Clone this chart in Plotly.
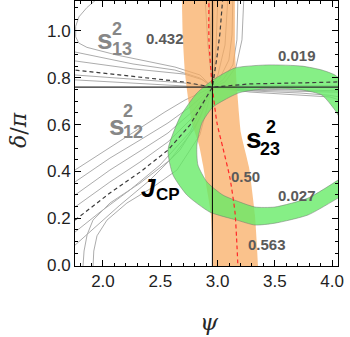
import plotly.graph_objects as go

# ---------------- data (psi, delta/pi) ----------------
best_psi = 2.955
best_delta = 0.76

# s23^2 band (0.437..0.563) edges
s23_left_psi = [2.689, 2.689, 2.698, 2.716, 2.733, 2.777, 2.838, 2.873, 2.916, 2.942, 2.960, 2.962]
s23_left_delta = [1.20, 1.132, 0.962, 0.821, 0.748, 0.607, 0.513, 0.427, 0.299, 0.214, 0.0, -0.05]
s23_right_psi = [3.356, 3.353, 3.326, 3.274, 3.204, 3.169, 3.152, 3.152]
s23_right_delta = [-0.05, 0.0, 0.214, 0.419, 0.564, 0.761, 0.919, 1.20]
# s23^2 = 0.50 central contour
s23_mid_psi = [2.925, 2.925, 2.951, 2.995, 3.047, 3.108, 3.152, 3.169, 3.178]
s23_mid_delta = [1.15, 0.962, 0.778, 0.607, 0.500, 0.372, 0.226, 0.085, -0.01]

# J_CP band (0.019..0.027) edges
jcp_outer_psi = [4.10, 4.024, 3.911, 3.736, 3.440, 3.152, 2.960, 2.820, 2.672, 2.567,
                 2.611, 2.733, 2.934, 3.169, 3.326, 3.501, 3.789, 4.051, 4.10]
jcp_outer_delta = [0.78, 0.812, 0.833, 0.850, 0.855, 0.842, 0.791, 0.735, 0.632, 0.491,
                   0.385, 0.299, 0.226, 0.192, 0.171, 0.179, 0.214, 0.286, 0.30]
jcp_inner_psi = [4.10, 4.051, 3.789, 3.501, 3.326, 3.195, 3.047, 2.908, 2.829, 2.820,
                 2.864, 2.960, 3.108, 3.195, 3.440, 3.736, 3.911, 4.024, 4.10]
jcp_inner_delta = [0.38, 0.363, 0.286, 0.248, 0.248, 0.269, 0.299, 0.355, 0.427, 0.513,
                   0.607, 0.675, 0.718, 0.737, 0.754, 0.748, 0.726, 0.662, 0.60]

# s12^2 contours (gray) and central value (dashed)
s12_lines_psi = [
    [1.756, 2.061, 2.323, 2.541, 2.716, 2.955, 2.916, 2.890],
    [1.756, 2.061, 2.323, 2.567, 2.759, 2.955, 2.942, 2.925],
    [1.756, 2.061, 2.323, 2.567, 2.777, 2.955, 2.960, 2.969],
    [1.756, 2.061, 2.323, 2.567, 2.777, 2.955, 2.986, 3.003],
    [1.756, 1.974, 2.236, 2.497, 2.759, 2.955, 3.003, 3.065, 3.091],
    [1.756, 1.930, 2.148, 2.410, 2.672, 2.846, 2.955, 3.021, 3.099, 3.126, 3.134],
    [1.825, 1.835, 1.862, 1.913, 2.061, 2.323, 2.585, 2.803, 2.955, 3.047, 3.134, 3.169, 3.178],
    [1.913, 1.920, 1.948, 2.035, 2.209, 2.436, 2.646, 2.846, 2.955, 3.065, 3.161, 3.213, 3.230],
]
s12_lines_delta = [
    [0.406, 0.504, 0.585, 0.654, 0.705, 0.760, 0.940, 1.15],
    [0.355, 0.457, 0.534, 0.607, 0.675, 0.760, 0.940, 1.15],
    [0.299, 0.406, 0.487, 0.564, 0.654, 0.760, 0.940, 1.15],
    [0.248, 0.355, 0.440, 0.526, 0.628, 0.760, 0.919, 1.15],
    [0.141, 0.226, 0.321, 0.427, 0.568, 0.760, 0.812, 0.940, 1.15],
    [0.085, 0.162, 0.256, 0.363, 0.491, 0.628, 0.760, 0.799, 0.876, 0.983, 1.15],
    [-0.01, 0.060, 0.130, 0.192, 0.265, 0.350, 0.449, 0.585, 0.760, 0.791, 0.855, 0.962, 1.15],
    [-0.01, 0.060, 0.125, 0.192, 0.265, 0.333, 0.406, 0.556, 0.760, 0.782, 0.846, 0.962, 1.15],
]
s12_best_psi = [1.756, 2.061, 2.323, 2.567, 2.759, 2.955, 2.995, 3.021, 3.047]
s12_best_delta = [0.192, 0.308, 0.397, 0.491, 0.598, 0.760, 0.889, 0.991, 1.15]

# s13^2 contours (gray) and central value (dashed)
s13_lines_psi = [
    [1.98, 1.860, 1.790, 1.762, 1.762, 1.790, 1.860, 2.122, 2.410, 2.628, 2.846, 2.955, 3.283, 3.719, 4.10],
    [1.70, 1.756, 2.262, 2.628, 2.846, 2.955, 3.283, 3.719, 4.10],
    [1.70, 1.756, 2.262, 2.707, 2.873, 2.955, 3.283, 3.719, 4.10],
    [1.70, 1.756, 2.707, 2.955, 3.283, 3.719, 3.98, 4.10],
    [1.70, 1.756, 2.707, 2.955, 3.283, 3.719, 3.98, 4.10],
]
s13_lines_delta = [
    [1.15, 1.100, 1.060, 1.020, 0.975, 0.948, 0.930, 0.897, 0.868, 0.846, 0.812, 0.760, 0.769, 0.765, 0.765],
    [0.915, 0.910, 0.859, 0.833, 0.799, 0.760, 0.752, 0.748, 0.744],
    [0.875, 0.872, 0.838, 0.816, 0.791, 0.760, 0.747, 0.742, 0.738],
    [0.815, 0.812, 0.778, 0.760, 0.744, 0.735, 0.725, 0.715],
    [0.793, 0.791, 0.765, 0.760, 0.739, 0.726, 0.718, 0.700],
]
s13_best_psi = [1.70, 1.756, 2.236, 2.707, 2.955, 3.283, 3.719, 4.10]
s13_best_delta = [0.836, 0.833, 0.808, 0.782, 0.760, 0.774, 0.778, 0.783]

# contour value labels
value_labels = ["0.432", "0.019", "0.50", "0.027", "0.563"]
value_psi = [2.541, 3.693, 3.248, 3.693, 3.431]
value_delta = [0.968, 0.895, 0.378, 0.297, 0.087]

x_ticks = [2.0, 2.5, 3.0, 3.5, 4.0]
y_ticks = [0.0, 0.2, 0.4, 0.6, 0.8, 1.0]

# ---------------- figure ----------------
fig = go.Figure()
GRAY = "rgb(172,172,172)"

for xs, ys in zip(s13_lines_psi, s13_lines_delta):
    fig.add_trace(go.Scatter(x=xs, y=ys, mode="lines", line=dict(color=GRAY, width=1),
                             hoverinfo="skip", showlegend=False))
for xs, ys in zip(s12_lines_psi, s12_lines_delta):
    fig.add_trace(go.Scatter(x=xs, y=ys, mode="lines", line=dict(color=GRAY, width=1),
                             hoverinfo="skip", showlegend=False))

# orange s23 band
fig.add_trace(go.Scatter(x=s23_left_psi + s23_right_psi, y=s23_left_delta + s23_right_delta,
                         mode="lines", fill="toself", fillcolor="rgba(248,170,96,0.72)",
                         line=dict(width=0, color="rgba(0,0,0,0)", shape="spline", smoothing=0.5),
                         hoverinfo="skip", showlegend=False))
# green J_CP band
fig.add_trace(go.Scatter(x=jcp_outer_psi + jcp_inner_psi, y=jcp_outer_delta + jcp_inner_delta,
                         mode="lines", fill="toself", fillcolor="rgba(100,234,100,0.78)",
                         line=dict(width=0.8, color="rgba(110,110,110,0.6)", shape="spline", smoothing=0.6),
                         hoverinfo="skip", showlegend=False))

# central-value dashed curves
fig.add_trace(go.Scatter(x=s13_best_psi, y=s13_best_delta, mode="lines",
                         line=dict(color="rgb(60,60,60)", width=1.2, dash="4px,3px"),
                         hoverinfo="skip", showlegend=False))
fig.add_trace(go.Scatter(x=s12_best_psi, y=s12_best_delta, mode="lines",
                         line=dict(color="rgb(60,60,60)", width=1.2, dash="4px,3px"),
                         hoverinfo="skip", showlegend=False))
fig.add_trace(go.Scatter(x=s23_mid_psi, y=s23_mid_delta, mode="lines",
                         line=dict(color="rgb(255,40,40)", width=1.2, dash="4px,3px", shape="spline", smoothing=0.6),
                         hoverinfo="skip", showlegend=False))

# best-fit cross lines
fig.add_trace(go.Scatter(x=[best_psi, best_psi], y=[-0.05, 1.2], mode="lines",
                         line=dict(color="black", width=1), hoverinfo="skip", showlegend=False))
fig.add_trace(go.Scatter(x=[1.7, 4.1], y=[best_delta, best_delta], mode="lines",
                         line=dict(color="rgb(40,40,40)", width=1.2), hoverinfo="skip", showlegend=False))

FONT = "Liberation Sans, Arial, sans-serif"
ann = []
for t, x, y in zip(value_labels, value_psi, value_delta):
    ann.append(dict(x=x, y=y, xref="x", yref="y", text="<b>" + t + "</b>", showarrow=False,
                    font=dict(family=FONT, size=15, color="rgb(90,90,90)"), xanchor="center", yanchor="middle"))

def sym(x, y, main, sup, sub, color, xs, ys, xb, yb, size=28, small=18):
    ann.append(dict(x=x, y=y, xref="x", yref="y", text="<b>" + main + "</b>", showarrow=False,
                    font=dict(family=FONT, size=size, color=color), xanchor="center", yanchor="middle"))
    ann.append(dict(x=xs, y=ys, xref="x", yref="y", text="<b>" + sup + "</b>", showarrow=False,
                    font=dict(family=FONT, size=small, color=color), xanchor="center", yanchor="middle"))
    ann.append(dict(x=xb, y=yb, xref="x", yref="y", text="<b>" + sub + "</b>", showarrow=False,
                    font=dict(family=FONT, size=small, color=color), xanchor="center", yanchor="middle"))

sym(2.017, 0.965, "s", "2", "13", "rgb(135,135,135)", 2.122, 1.010, 2.166, 0.925)
sym(2.122, 0.597, "s", "2", "12", "rgb(135,135,135)", 2.218, 0.656, 2.262, 0.570)
sym(3.318, 0.542, "s", "2", "23", "black", 3.466, 0.591, 3.457, 0.497)
ann.append(dict(x=2.393, y=0.33, xref="x", yref="y", text="<b><i>J</i></b>", showarrow=False,
                font=dict(family=FONT, size=26, color="black"), xanchor="center", yanchor="middle"))
ann.append(dict(x=2.567, y=0.300, xref="x", yref="y", text="<b>CP</b>", showarrow=False,
                font=dict(family=FONT, size=17, color="black"), xanchor="center", yanchor="middle"))

# axis titles
ann.append(dict(x=-0.217, y=0.513, xref="paper", yref="paper", text="<i>δ</i>/<i>π</i>", showarrow=False,
                textangle=-90, font=dict(family="DejaVu Serif, serif", size=22, color="rgb(40,40,40)"),
                xanchor="center", yanchor="middle"))
ann.append(dict(x=0.513, y=-0.211, xref="paper", yref="paper", text="<i>ψ</i>", showarrow=False,
                font=dict(family="DejaVu Serif, serif", size=23, color="rgb(40,40,40)"),
                xanchor="center", yanchor="middle"))

axis_common = dict(showgrid=False, zeroline=False, showline=True, linecolor="black", linewidth=1,
                   mirror="ticks", ticks="inside", ticklen=6, tickcolor="black", tickwidth=1,
                   tickfont=dict(family=FONT, size=17, color="rgb(30,30,30)"))
fig.update_layout(
    width=350, height=337, margin=dict(l=75, r=12, t=1, b=71, autoexpand=False),
    paper_bgcolor="white", plot_bgcolor="white",
    showlegend=False, annotations=ann,
    xaxis=dict(range=[1.756, 4.051], tickvals=x_ticks, ticktext=[f"{v:.1f}" for v in x_ticks],
               minor=dict(dtick=0.1, tick0=0, ticks="inside", ticklen=3, tickcolor="black", showgrid=False),
               **axis_common),
    yaxis=dict(range=[-0.004, 1.128], tickvals=y_ticks, ticktext=[f"{v:.1f}" for v in y_ticks],
               minor=dict(dtick=0.05, tick0=0, ticks="inside", ticklen=3, tickcolor="black", showgrid=False),
               **axis_common),
)
fig.write_html("out.html", config={"displayModeBar": False},
               post_script="document.body.style.margin='0';")
